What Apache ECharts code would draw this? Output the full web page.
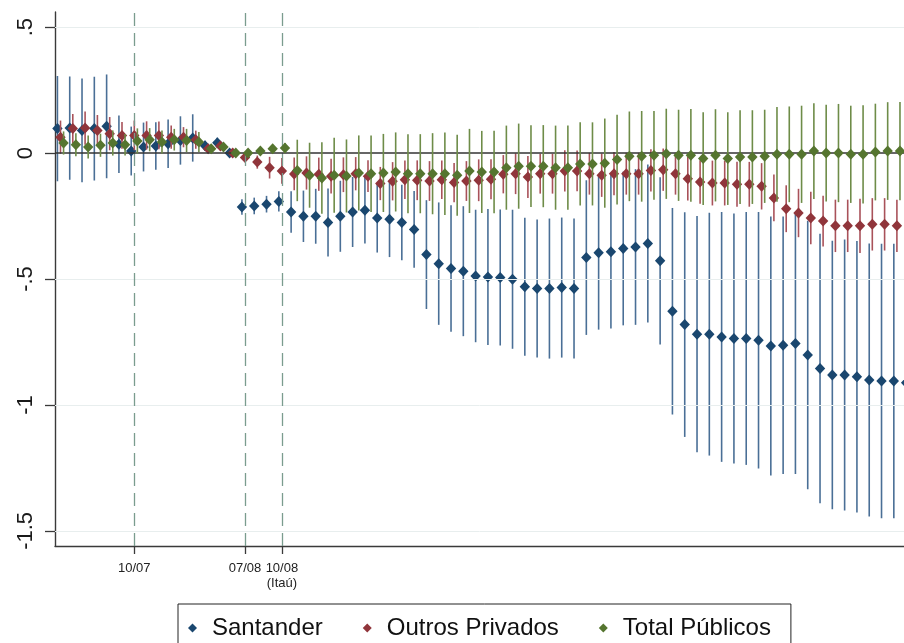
<!DOCTYPE html>
<html>
<head>
<meta charset="utf-8">
<script src="https://cdn.jsdelivr.net/npm/echarts@6/dist/echarts.min.js"></script>
<style>
  html, body { margin: 0; padding: 0; background: #fff; }
  #chart { width: 904px; height: 643px; }
</style>
</head>
<body>
<div id="chart"></div>
<script>
// Monthly event-study coefficients; index 0 = 04/2007, index 14 = 06/2008 (reference month)
const seriesNames = ['Santander', 'Outros Privados', 'Total Públicos'];

const santanderEst = [
  0.097, 0.099, 0.090, 0.097, 0.106, 0.035, 0.008, 0.024, 0.028, 0.037,
  0.050, 0.060, 0.029, 0.041, 0.000, -0.214, -0.210, -0.203, -0.192, -0.234,
  -0.251, -0.251, -0.276, -0.251, -0.234, -0.227, -0.258, -0.263, -0.276, -0.303,
  -0.403, -0.439, -0.458, -0.469, -0.488, -0.492, -0.494, -0.501, -0.531, -0.538,
  -0.538, -0.534, -0.538, -0.415, -0.396, -0.392, -0.379, -0.373, -0.359, -0.428,
  -0.628, -0.681, -0.719, -0.719, -0.730, -0.736, -0.736, -0.743, -0.766, -0.763,
  -0.756, -0.802, -0.855, -0.881, -0.881, -0.888, -0.901, -0.905, -0.905, -0.912
];
// half-width of the 95% interval
const santanderCI = [
  0.209, 0.205, 0.206, 0.206, 0.206, 0.114, 0.097, 0.097, 0.094, 0.096,
  0.096, 0.094, 0.020, 0.020, 0.000, 0.031, 0.033, 0.033, 0.040, 0.082,
  0.102, 0.109, 0.135, 0.141, 0.139, 0.132, 0.137, 0.150, 0.150, 0.152,
  0.216, 0.243, 0.251, 0.258, 0.263, 0.270, 0.270, 0.276, 0.274, 0.274,
  0.278, 0.278, 0.278, 0.307, 0.305, 0.305, 0.305, 0.309, 0.314, 0.332,
  0.410, 0.446, 0.469, 0.482, 0.496, 0.496, 0.502, 0.509, 0.514, 0.511,
  0.518, 0.533, 0.535, 0.533, 0.538, 0.539, 0.542, 0.545, 0.545, 0.545
];

const privadosEst = [
  0.063, 0.097, 0.099, 0.090, 0.077, 0.070, 0.070, 0.070, 0.070, 0.063,
  0.063, 0.053, 0.017, 0.028, 0.000, -0.018, -0.036, -0.058, -0.071, -0.083,
  -0.079, -0.084, -0.092, -0.086, -0.082, -0.092, -0.121, -0.112, -0.106, -0.108,
  -0.111, -0.106, -0.117, -0.111, -0.108, -0.104, -0.084, -0.082, -0.095, -0.082,
  -0.082, -0.071, -0.071, -0.082, -0.088, -0.082, -0.082, -0.082, -0.069, -0.066,
  -0.082, -0.102, -0.115, -0.119, -0.119, -0.124, -0.124, -0.132, -0.178, -0.221,
  -0.238, -0.258, -0.270, -0.289, -0.289, -0.289, -0.283, -0.283, -0.289, null
];
const privadosCI = [
  0.066, 0.058, 0.066, 0.061, 0.066, 0.053, 0.059, 0.056, 0.055, 0.046,
  0.040, 0.036, 0.017, 0.017, 0.000, 0.017, 0.026, 0.043, 0.051, 0.065,
  0.066, 0.066, 0.069, 0.069, 0.066, 0.063, 0.066, 0.076, 0.076, 0.079,
  0.079, 0.076, 0.078, 0.079, 0.083, 0.079, 0.076, 0.081, 0.083, 0.079,
  0.079, 0.082, 0.081, 0.083, 0.086, 0.086, 0.083, 0.083, 0.084, 0.084,
  0.083, 0.086, 0.086, 0.089, 0.089, 0.089, 0.089, 0.092, 0.093, 0.093,
  0.096, 0.104, 0.101, 0.104, 0.104, 0.108, 0.104, 0.104, 0.104, null
];

const publicosEst = [
  0.040, 0.033, 0.024, 0.031, 0.040, 0.033, 0.048, 0.053, 0.044, 0.053,
  0.050, 0.044, 0.017, 0.024, 0.000, 0.000, 0.008, 0.017, 0.020, -0.069,
  -0.088, -0.099, -0.088, -0.091, -0.079, -0.082, -0.079, -0.075, -0.082, -0.082,
  -0.082, -0.082, -0.088, -0.071, -0.075, -0.075, -0.058, -0.052, -0.052, -0.052,
  -0.058, -0.058, -0.043, -0.043, -0.040, -0.026, -0.013, -0.013, -0.009, -0.003,
  -0.009, -0.009, -0.022, -0.009, -0.022, -0.016, -0.016, -0.013, -0.005, -0.005,
  -0.005, 0.008, 0.000, 0.000, -0.005, -0.005, 0.004, 0.008, 0.008, null
];
const publicosCI = [
  0.046, 0.046, 0.046, 0.046, 0.050, 0.043, 0.050, 0.046, 0.046, 0.043,
  0.046, 0.040, 0.015, 0.015, 0.000, 0.010, 0.012, 0.015, 0.020, 0.122,
  0.129, 0.142, 0.149, 0.145, 0.149, 0.152, 0.155, 0.157, 0.157, 0.157,
  0.161, 0.164, 0.161, 0.167, 0.163, 0.164, 0.167, 0.169, 0.162, 0.163,
  0.167, 0.167, 0.165, 0.165, 0.177, 0.178, 0.178, 0.180, 0.176, 0.179,
  0.181, 0.184, 0.184, 0.183, 0.184, 0.186, 0.186, 0.185, 0.188, 0.190,
  0.193, 0.190, 0.192, 0.195, 0.193, 0.195, 0.192, 0.194, 0.195, null
];

// Event months marked on the time axis
const eventIndex = [6, 15, 18];
const eventLabels = ['10/07', '07/08', '10/08\n(Itaú)'];

// Value-axis ticks
const yTickValues = [0.5, 0, -0.5, -1, -1.5];
const yTickLabels = ['.5', '0', '-.5', '-1', '-1.5'];

const markColors = ['#1a476f', '#90353b', '#55752f'];
const spikeColors = ['#4a6f96', '#a9525a', '#6e8c48'];
const xShift = [-0.25, 0, 0.25];

function buildData(est, ci, shift) {
  const out = [];
  est.forEach((v, i) => {
    if (v !== null) out.push([i + shift, v, ci[i]]);
  });
  return out;
}

function makeRenderer(k) {
  return function (params, api) {
    const x = api.value(0), est = api.value(1), hw = api.value(2);
    const c = api.coord([x, est]);
    const children = [];
    if (hw > 0) {
      const lo = api.coord([x, est - hw]);
      const hi = api.coord([x, est + hw]);
      children.push({
        type: 'line',
        shape: { x1: lo[0], y1: lo[1], x2: hi[0], y2: hi[1] },
        style: { stroke: spikeColors[k], lineWidth: 1.6 }
      });
    }
    children.push({
      type: 'polygon',
      shape: { points: [[c[0], c[1] - 5.5], [c[0] + 5.2, c[1]], [c[0], c[1] + 5.5], [c[0] - 5.2, c[1]]] },
      style: { fill: markColors[k] }
    });
    return { type: 'group', children };
  };
}

function labelOf(values, labels, v) {
  for (let i = 0; i < values.length; i++) {
    if (Math.abs(values[i] - v) < 1e-6) return labels[i];
  }
  return '';
}

const estimates = [santanderEst, privadosEst, publicosEst];
const intervals = [santanderCI, privadosCI, publicosCI];

const axisColor = '#3a3a3a';

const chart = echarts.init(document.getElementById('chart'), null, { renderer: 'canvas' });

const series = [
  {
    // reference lines: grid, zero line and event months
    type: 'line',
    data: [],
    silent: true,
    z: 1,
    markLine: {
      silent: true,
      symbol: 'none',
      label: { show: false },
      animation: false,
      data: [
        ...yTickValues.filter(v => v !== 0).map(v => ({ yAxis: v, lineStyle: { color: '#e8eeee', width: 1, type: 'solid' } })),
        ...eventIndex.map(v => ({ xAxis: v, lineStyle: { color: '#7a9c8e', width: 1.3, type: [13, 7] } })),
        { yAxis: 0, lineStyle: { color: '#333333', width: 1.5, type: 'solid' } }
      ]
    }
  }
];

seriesNames.forEach((name, k) => {
  series.push({
    name,
    type: 'custom',
    z: 3 + k,
    clip: false,
    itemStyle: { color: markColors[k] },
    encode: { x: 0, y: 1 },
    renderItem: makeRenderer(k),
    data: buildData(estimates[k], intervals[k], xShift[k])
  });
});

chart.setOption({
  animation: false,
  backgroundColor: '#ffffff',
  textStyle: { fontFamily: 'Liberation Sans, Arial, sans-serif' },
  grid: { left: 55, right: 0, top: 12, bottom: 97, outerBoundsMode: 'none' },
  xAxis: {
    type: 'value',
    min: -0.447,
    max: 68.577,
    axisLine: { show: true, onZero: false, lineStyle: { color: axisColor, width: 1.4 } },
    axisTick: { show: true, customValues: eventIndex, length: 8, lineStyle: { color: axisColor, width: 1.3 } },
    axisLabel: {
      customValues: eventIndex,
      formatter: v => labelOf(eventIndex, eventLabels, v),
      fontSize: 13,
      lineHeight: 15,
      color: '#222',
      margin: 15
    },
    splitLine: { show: false }
  },
  yAxis: {
    type: 'value',
    min: -1.56,
    max: 0.56,
    axisLine: { show: true, onZero: false, lineStyle: { color: axisColor, width: 1.4 } },
    axisTick: { show: true, customValues: yTickValues, length: 10, lineStyle: { color: axisColor, width: 1.3 } },
    axisLabel: {
      customValues: yTickValues,
      formatter: v => labelOf(yTickValues, yTickLabels, v),
      rotate: 90,
      fontSize: 22,
      color: '#1a1a1a',
      margin: 18
    },
    splitLine: { show: false }
  },
  legend: {
    data: seriesNames,
    left: 178,
    top: 604,
    orient: 'horizontal',
    icon: 'diamond',
    itemWidth: 9,
    itemHeight: 9,
    itemGap: 40,
    padding: [12, 20, 12, 10],
    borderColor: '#222',
    borderWidth: 1,
    selectedMode: false,
    textStyle: { fontSize: 24, color: '#111', padding: [0, 0, 0, 10] }
  },
  series
});
</script>
</body>
</html>
